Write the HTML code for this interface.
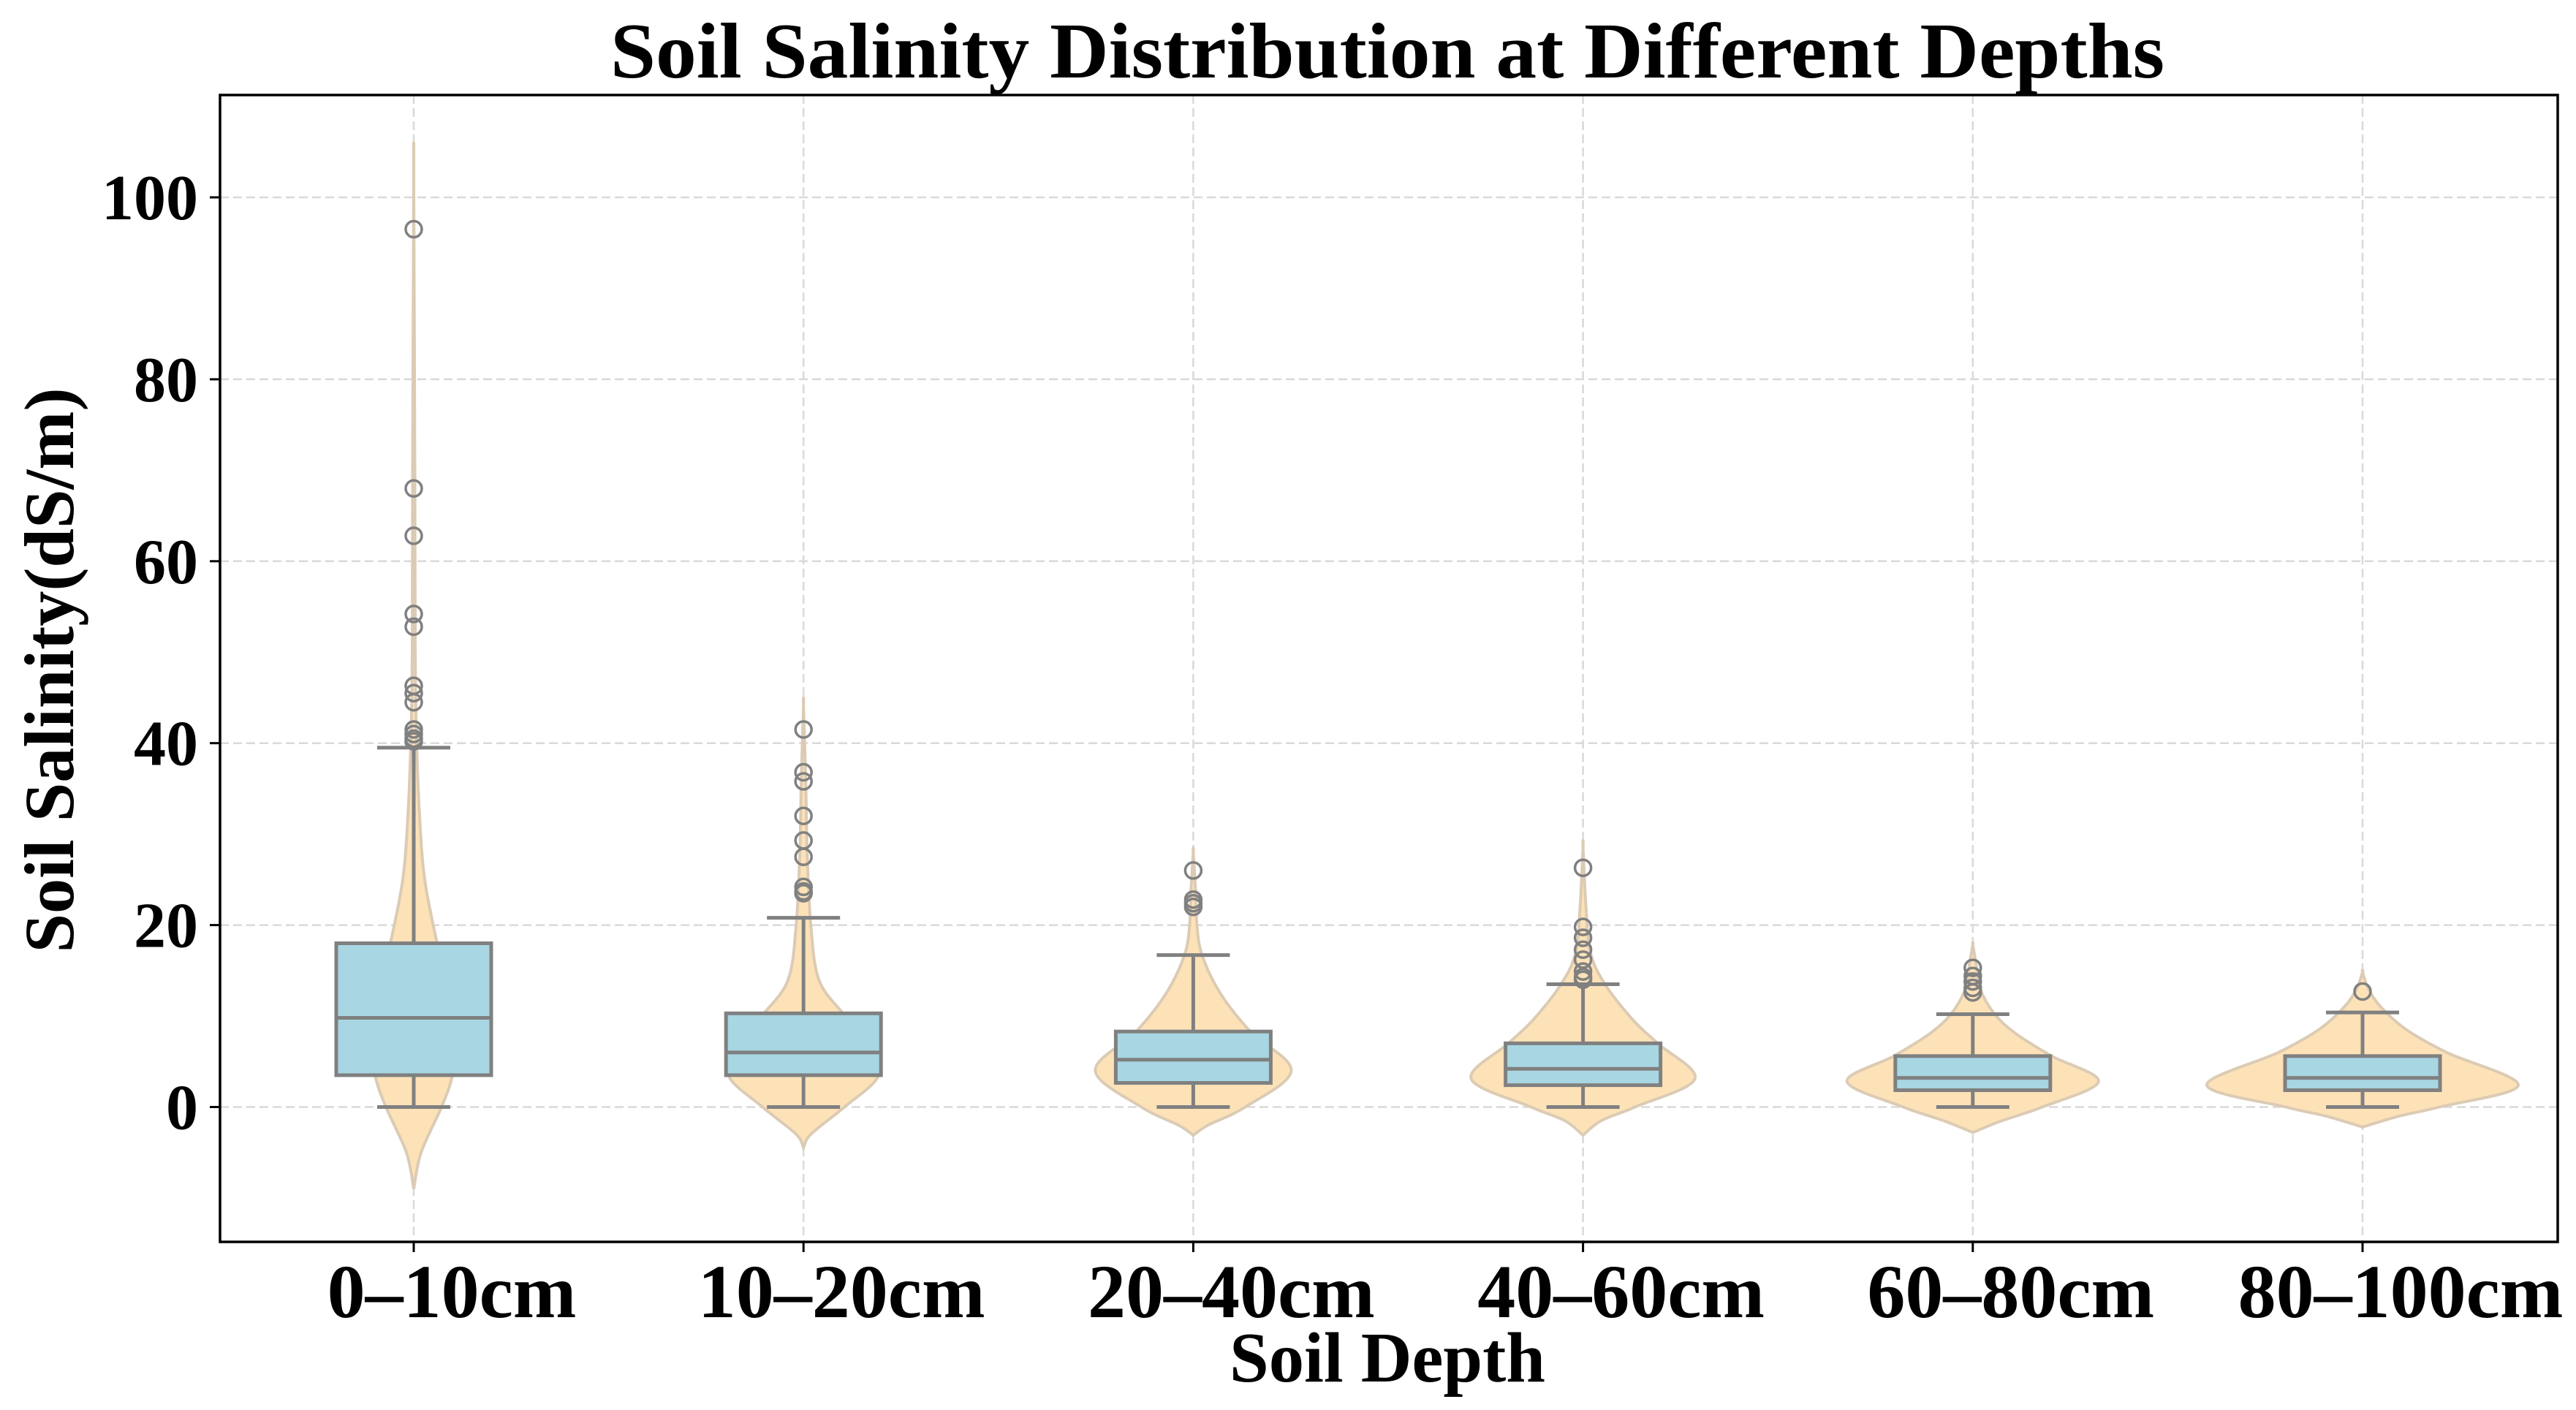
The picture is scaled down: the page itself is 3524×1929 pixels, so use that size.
<!DOCTYPE html>
<html><head><meta charset="utf-8"><style>
html,body{margin:0;padding:0;background:#fff;}
svg{display:block;}
text{font-family:"Liberation Serif","Times New Roman",serif;font-weight:bold;fill:#000;}
</style></head>
<body>
<svg id="chart" width="3524" height="1929" viewBox="0 0 3524 1929" xmlns="http://www.w3.org/2000/svg">
<rect x="0" y="0" width="3524" height="1929" fill="#fff"/>
<g id="grid"></g>
<g id="violins"></g>
<g id="boxes"></g>
<g id="axes"></g>
<text x="1898" y="106" text-anchor="middle" font-size="108" textLength="2126" lengthAdjust="spacingAndGlyphs">Soil Salinity Distribution at Different Depths</text>
<text x="1898" y="1890" text-anchor="middle" font-size="98" textLength="432" lengthAdjust="spacingAndGlyphs">Soil Depth</text>
<text x="0" y="0" transform="translate(100,917) rotate(-90)" text-anchor="middle" font-size="96" textLength="773" lengthAdjust="spacingAndGlyphs">Soil Salinity(dS/m)</text>
</svg>
<script>
const categories = ["0–10cm","10–20cm","20–40cm","40–60cm","60–80cm","80–100cm"];
const q1 = [3.5, 3.5, 2.65, 2.4, 1.85, 1.85];
const medians = [9.8, 6.0, 5.2, 4.2, 3.2, 3.2];
const q3 = [18.0, 10.3, 8.3, 7.0, 5.6, 5.6];
const whiskerLow = [0, 0, 0, 0, 0, 0];
const whiskerHigh = [39.5, 20.8, 16.7, 13.5, 10.2, 10.4];
const outliers = [
  [96.5, 68, 62.8, 54.2, 52.8, 46.3, 45.5, 44.5, 41.5, 41, 40.5, 40.2],
  [41.5, 36.8, 35.8, 32, 29.3, 27.5, 24.2, 23.7, 23.5],
  [26, 22.8, 22.4, 22],
  [26.3, 19.8, 18.6, 17.3, 16.2, 14.9, 14.3, 14],
  [15.3, 14.4, 13.8, 13.1, 12.6],
  [12.7]
];
const violinLevels = [
  [-9, -5, 0, 3.5, 8, 12, 18, 25, 32, 40, 50, 70, 102],
  [-4.5, -3, 0, 3.5, 7, 10.3, 14, 20, 28, 36, 44],
  [-3.1, -2, 0, 4, 8.3, 12.5, 16.7, 20, 24, 28],
  [-3.1, -1.5, 0, 3.1, 7, 9.6, 13.5, 17, 22, 28.5],
  [-2.8, -1.5, 0, 2.8, 5.6, 8, 10.2, 13, 15.5, 17.8],
  [-2.2, -1, 0, 2.4, 6, 8.5, 11, 13, 14.8]
];
const violinDensity = [
  [0, 10, 38, 53, 60, 50, 32, 15, 8, 4, 2, 1.5, 0],
  [0, 10, 56, 103, 90, 54, 21, 10, 5, 3, 0],
  [0, 20, 71, 134, 78, 37, 12, 5, 3, 0],
  [0, 25, 71, 153, 102, 68, 30, 10, 4, 0],
  [0, 40, 95, 172, 108, 60, 30, 10, 5, 0],
  [0, 50, 105, 213, 115, 60, 25, 8, 0]
];
const yTicks = [0, 20, 40, 60, 80, 100];

const NS = "http://www.w3.org/2000/svg";
const PL = 301, PR = 3499, PT = 130, PB = 1699;
const X0 = 566, XSTEP = 533.2;
const LABEL_SHIFT = 52;
const xScale = i => X0 + i * XSTEP;
const yScale = v => 1514.5 - v * 12.445;
const wScale = d => d;
const BOXHALF = 106, CAPHALF = 50;
function mk(tag, attrs, parent){const e=document.createElementNS(NS,tag);for(const k in attrs)e.setAttribute(k,attrs[k]);parent.appendChild(e);return e;}
const grid=document.getElementById('grid'),vio=document.getElementById('violins'),box=document.getElementById('boxes'),axes=document.getElementById('axes');

yTicks.forEach(t=>{
  const y=yScale(t);
  const g=mk('line',{x1:PL,x2:PR,y1:y,y2:y,stroke:'#d9d9d9','stroke-width':2.5,'stroke-dasharray':'12,6'},grid);
  
  
  const tk=mk('line',{x1:PL-14,x2:PL,y1:y,y2:y,stroke:'#000','stroke-width':3},axes);
  
  
  const lb=mk('text',{x:PL-30,y:y+30,'text-anchor':'end','font-size':88},axes);
  lb.textContent=t;
  
  
});
categories.forEach((c,i)=>{
  const x=xScale(i);
  const g=mk('line',{x1:x,x2:x,y1:PT,y2:PB,stroke:'#d9d9d9','stroke-width':2.5,'stroke-dasharray':'12,6'},grid);
  
  
  const tk=mk('line',{x1:x,x2:x,y1:PB,y2:PB+14,stroke:'#000','stroke-width':3},axes);
  
  
  const lb=mk('text',{x:x+LABEL_SHIFT,y:1802,'text-anchor':'middle','font-size':104},axes);
  lb.textContent=c;
  
  

  const lv=violinLevels[i], dn=violinDensity[i];
  const right=lv.map((v,k)=>[x+wScale(dn[k]),yScale(v)]);
  const left=lv.map((v,k)=>[x-wScale(dn[k]),yScale(v)]).reverse();
  const pts=right.concat(left);
  let d='M'+pts[0][0]+','+pts[0][1];
  for(let k=0;k<pts.length-1;k++){
    const p0=pts[Math.max(k-1,0)],p1=pts[k],p2=pts[k+1],p3=pts[Math.min(k+2,pts.length-1)];
    const c1=[p1[0]+(p2[0]-p0[0])/6,p1[1]+(p2[1]-p0[1])/6];
    const c2=[p2[0]-(p3[0]-p1[0])/6,p2[1]-(p3[1]-p1[1])/6];
    d+=' C'+c1[0]+','+c1[1]+' '+c2[0]+','+c2[1]+' '+p2[0]+','+p2[1];
  }
  d+='Z';
  const vp=mk('path',{d:d,fill:'#fde2b8',stroke:'#dccbb4','stroke-width':4},vio);
  
  

  const wg=mk('g',{stroke:'#808080','stroke-width':5},box);
  
  
  mk('line',{x1:x,x2:x,y1:yScale(whiskerLow[i]),y2:yScale(q1[i])},wg);
  mk('line',{x1:x,x2:x,y1:yScale(q3[i]),y2:yScale(whiskerHigh[i])},wg);
  mk('line',{x1:x-CAPHALF,x2:x+CAPHALF,y1:yScale(whiskerLow[i]),y2:yScale(whiskerLow[i])},wg);
  mk('line',{x1:x-CAPHALF,x2:x+CAPHALF,y1:yScale(whiskerHigh[i]),y2:yScale(whiskerHigh[i])},wg);
  const b=mk('rect',{x:x-BOXHALF,y:yScale(q3[i]),width:2*BOXHALF,height:yScale(q1[i])-yScale(q3[i]),fill:'#a8d6e2',stroke:'#808080','stroke-width':5},box);
  
  
  const m=mk('line',{x1:x-BOXHALF,x2:x+BOXHALF,y1:yScale(medians[i]),y2:yScale(medians[i]),stroke:'#808080','stroke-width':5},box);
  
  
  outliers[i].forEach(o=>{
    const ci=mk('circle',{cx:x,cy:yScale(o),r:11,fill:'none',stroke:'#808080','stroke-width':3.5},box);
    
    
  });
});
const fr=mk('rect',{x:PL,y:PT,width:PR-PL,height:PB-PT,fill:'none',stroke:'#000','stroke-width':3.5},axes);


</script>
</body></html>
